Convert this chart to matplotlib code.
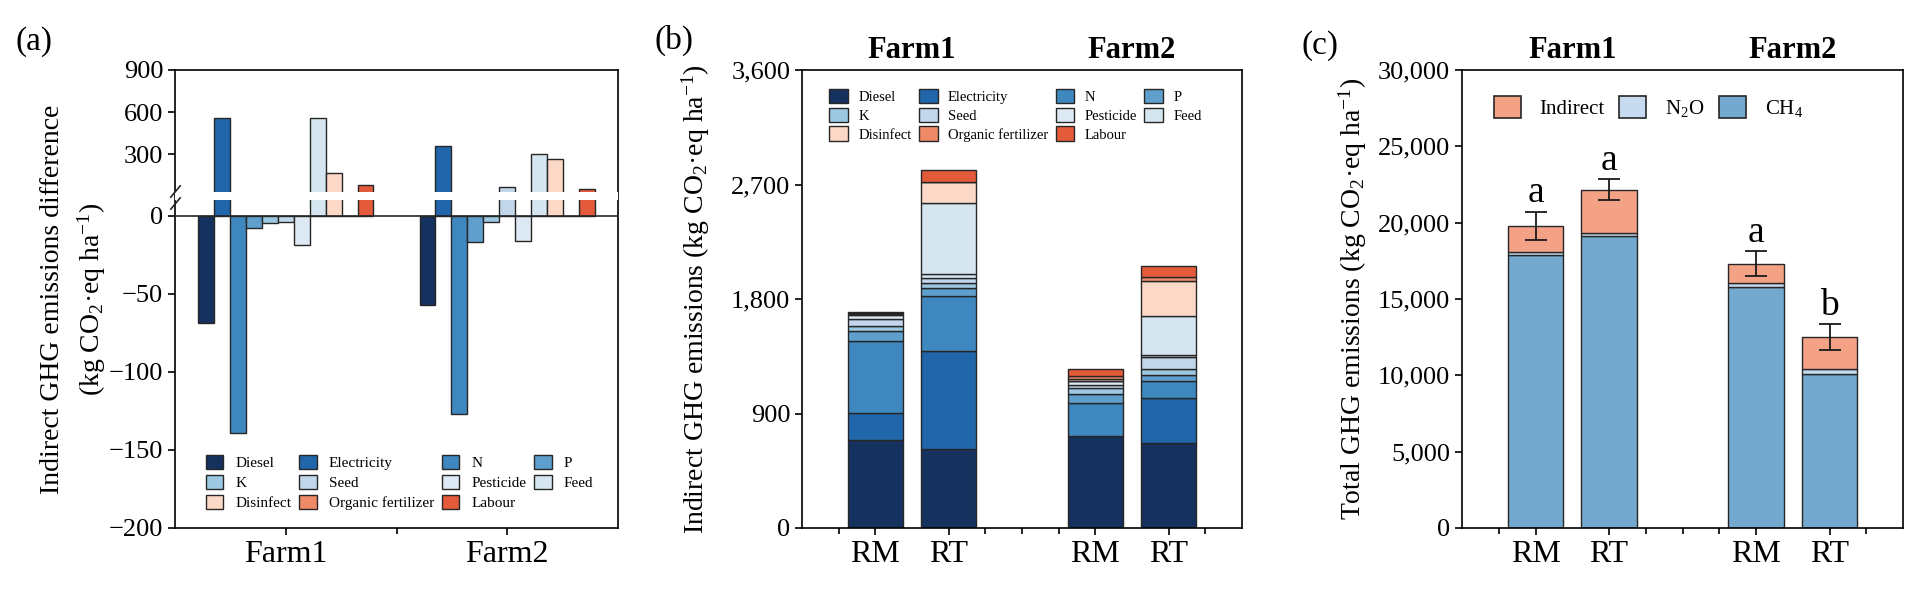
import numpy as np
import matplotlib
matplotlib.use("Agg")
import matplotlib.pyplot as plt
from matplotlib.patches import Patch
from matplotlib.ticker import StrMethodFormatter

plt.rcParams['font.family'] = 'serif'
plt.rcParams['font.serif'] = ['Liberation Serif', 'DejaVu Serif']
plt.rcParams['mathtext.fontset'] = 'custom'
plt.rcParams['mathtext.rm'] = 'Liberation Serif'
plt.rcParams['mathtext.it'] = 'Liberation Serif:italic'
plt.rcParams['mathtext.bf'] = 'Liberation Serif:bold'
plt.rcParams['axes.linewidth'] = 1.2

# ---- data ----
farms = ["Farm1", "Farm2"]
treatments = ["RM", "RT"]
sources = ["Diesel", "Electricity", "N", "P", "K", "Seed", "Pesticide",
           "Feed", "Disinfect", "Organic fertilizer", "Labour"]
source_colors = ["#15325f", "#2166aa", "#3f88bf", "#5f9fcd", "#9cc8e1", "#c2d7ec",
                 "#dde9f4", "#d5e6f0", "#fcd9c7", "#ef8a69", "#e35b3b"]

# (a) RT - RM difference per source
diff_farm1 = [-69, 555, -139, -8, -5, -4, -19, 555, 168, 0, 82]
diff_farm2 = [-57, 358, -127, -17, -4, 70, -16, 305, 270, 0, 50]

# (b) indirect emissions per source
farm1_rm = [689, 212, 570, 75, 45, 48, 34, 12, 5, 0, 5]
farm1_rt = [620, 770, 430, 70, 37, 39, 30, 555, 168, 0, 94]
farm2_rm = [720, 0, 265, 67, 46, 24, 37, 0, 10, 26, 51]
farm2_rt = [665, 355, 136, 50, 42, 94, 21, 302, 280, 26, 92]

# (c) total emissions (Farm1 RM, Farm1 RT, Farm2 RM, Farm2 RT)
ch4 = [17900, 19150, 15760, 10100]
n2o = [200, 200, 300, 330]
total_err = [930, 670, 820, 840]
letters = ["a", "a", "a", "b"]
gas_colors = {"Indirect": "#f4a285", "N2O": "#c6dbef", "CH4": "#74a9cf"}

EDGE = "#262626"
YTICK_FS = 19
XTICK_FS = 23
LABEL_FS = 20
unit = r"(kg CO$_2$·eq ha$^{-1}$)"


def row_major(items, ncol):
    nrow = int(np.ceil(len(items) / ncol))
    return [items[r * ncol + c] for c in range(ncol) for r in range(nrow)
            if r * ncol + c < len(items)]


def style_ticks(ax):
    ax.tick_params(axis='both', which='both', direction='out', width=1.2)
    ax.tick_params(axis='y', which='major', length=5, labelsize=YTICK_FS)
    ax.tick_params(axis='x', which='major', length=5, labelsize=XTICK_FS)
    ax.tick_params(axis='x', which='minor', length=4)


# broken y axis for panel (a)
BREAK = 13.5
SHRINK = 0.09


def fwd(v):
    v = np.asarray(v, dtype=float)
    return np.where(v <= BREAK, v, BREAK + (v - BREAK) * SHRINK)


def inv(u):
    u = np.asarray(u, dtype=float)
    return np.where(u <= BREAK, u, BREAK + (u - BREAK) / SHRINK)


W, H = 1921, 590
fig = plt.figure(figsize=(W / 100, H / 100), dpi=100)
ax_a = fig.add_axes([175 / W, 62 / H, 443 / W, 458 / H])
ax_b = fig.add_axes([802 / W, 62 / H, 440 / W, 458 / H])
ax_c = fig.add_axes([1462 / W, 62 / H, 441 / W, 458 / H])

# ---- (a) ----
ax = ax_a
ax.set_yscale('function', functions=(fwd, inv))
bw = 0.072
xf = np.arange(len(farms))
for i, src in enumerate(sources):
    ax.bar(xf + (i - 5) * bw, [diff_farm1[i], diff_farm2[i]], bw,
           color=source_colors[i], edgecolor=EDGE, linewidth=1.0, zorder=2)
ax.axhspan(10, 33, color='white', lw=0, zorder=3)
ax.axhline(0, color=EDGE, lw=1.2, zorder=4)
ax.set_ylim(-200, 900)
ax.set_yticks([-200, -150, -100, -50, 0, 300, 600, 900])
ax.set_yticklabels(["\u2212200", "\u2212150", "\u2212100", "\u221250", "0", "300", "600", "900"])
ax.set_xlim(-0.5, 1.5)
ax.set_xticks(xf)
ax.set_xticklabels(farms)
ax.set_xticks([0.5], minor=True)
style_ticks(ax)
mk = dict(marker=[(-1, -1.2), (1, 1.2)], markersize=9, linestyle='none',
          color=EDGE, mec=EDGE, mew=1.2, clip_on=False, zorder=6)
ax.plot([0, 0], [8, 40], transform=ax.get_yaxis_transform(), **mk)
ax.set_ylabel("Indirect GHG emissions difference\n" + unit, fontsize=LABEL_FS, linespacing=1.45)
ax.yaxis.set_label_coords(-0.151, 0.5)
handles = [Patch(facecolor=c, edgecolor=EDGE, linewidth=1.0) for c in source_colors]
ax.legend(row_major(handles, 4), row_major(sources, 4), ncol=4, loc='lower left',
          bbox_to_anchor=(0.052, 0.022), frameon=False, fontsize=11, borderpad=0,
          handlelength=1.15, handleheight=1.1, handletextpad=0.8,
          columnspacing=0.5, labelspacing=0.3)

# ---- (b) ----
ax = ax_b
pos = [0, 1, 3, 4]
stacks = [farm1_rm, farm1_rt, farm2_rm, farm2_rt]
bottom = np.zeros(len(pos))
for i, src in enumerate(sources):
    vals = np.array([s[i] for s in stacks], dtype=float)
    ax.bar(pos, vals, 0.75, bottom=bottom, color=source_colors[i],
           edgecolor=EDGE, linewidth=1.0, label=src, zorder=2)
    bottom += vals
ax.set_ylim(0, 3600)
ax.set_yticks([0, 900, 1800, 2700, 3600])
ax.yaxis.set_major_formatter(StrMethodFormatter('{x:,.0f}'))
ax.set_xlim(-1, 5)
ax.set_xticks(pos)
ax.set_xticklabels(treatments * 2)
ax.set_xticks([-0.5, 1.5, 2.0, 2.5, 4.5], minor=True)
style_ticks(ax)
ax.set_ylabel("Indirect GHG emissions " + unit, fontsize=LABEL_FS)
ax.yaxis.set_label_coords(-0.205, 0.5)
for xc, name in zip([0.5, 3.5], farms):
    ax.text(xc, 1.012, name, transform=ax.get_xaxis_transform(), ha='center',
            va='bottom', fontsize=22, fontweight='bold')
ax.legend(row_major(handles, 4), row_major(sources, 4), ncol=4, loc='upper left',
          bbox_to_anchor=(0.045, 0.975), frameon=False, fontsize=10.5, borderpad=0,
          handlelength=1.3, handleheight=1.15, handletextpad=0.7,
          columnspacing=0.5, labelspacing=0.25)

# ---- (c) ----
ax = ax_c
indirect = [sum(s) for s in stacks]
ax.bar(pos, ch4, 0.75, color=gas_colors["CH4"], edgecolor=EDGE, linewidth=1.0, zorder=2)
ax.bar(pos, n2o, 0.75, bottom=ch4, color=gas_colors["N2O"], edgecolor=EDGE,
       linewidth=1.0, zorder=2)
base = np.array(ch4) + np.array(n2o)
ax.bar(pos, indirect, 0.75, bottom=base, color=gas_colors["Indirect"], edgecolor=EDGE,
       linewidth=1.0, zorder=2)
totals = base + np.array(indirect)
ax.errorbar(pos, totals, yerr=total_err, fmt='none', ecolor='#1a1a1a',
            elinewidth=1.3, capsize=8, capthick=1.3, zorder=3)
for x, t, e, lt in zip(pos, totals, total_err, letters):
    ax.annotate(lt, (x, t + e), xytext=(0, 7), textcoords='offset points',
                ha='center', va='baseline', fontsize=27)
ax.set_ylim(0, 30000)
ax.set_yticks(np.arange(0, 30001, 5000))
ax.yaxis.set_major_formatter(StrMethodFormatter('{x:,.0f}'))
ax.set_xlim(-1, 5)
ax.set_xticks(pos)
ax.set_xticklabels(treatments * 2)
ax.set_xticks([-0.5, 1.5, 2.0, 2.5, 4.5], minor=True)
style_ticks(ax)
ax.set_ylabel("Total GHG emissions " + unit, fontsize=LABEL_FS)
ax.yaxis.set_label_coords(-0.211, 0.5)
for xc, name in zip([0.5, 3.5], farms):
    ax.text(xc, 1.012, name, transform=ax.get_xaxis_transform(), ha='center',
            va='bottom', fontsize=22, fontweight='bold')
gas_handles = [Patch(facecolor=gas_colors[k], edgecolor=EDGE, linewidth=1.2)
               for k in ["Indirect", "N2O", "CH4"]]
ax.legend(gas_handles, ["Indirect", "N$_2$O", "CH$_4$"], ncol=3, loc='upper left',
          bbox_to_anchor=(0.048, 0.965), frameon=False, fontsize=15, borderpad=0,
          handlelength=1.3, handleheight=1.2, handletextpad=0.9, columnspacing=0.7)

for lbl, xp, yp in [("(a)", 34, 42), ("(b)", 674, 40), ("(c)", 1320, 46)]:
    fig.text(xp / W, 1 - yp / H, lbl, ha='center', va='center', fontsize=24)

fig.savefig("out.png", dpi=100)
